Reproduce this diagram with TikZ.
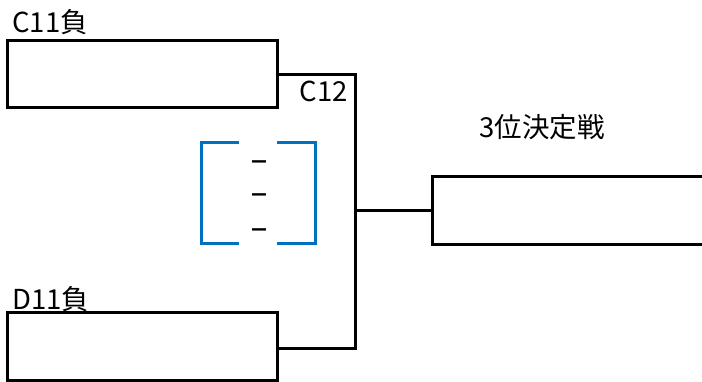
\documentclass[tikz,border=0pt]{standalone}
\usepackage{fontspec}
\setmainfont{Noto Sans CJK JP}
\definecolor{bracketblue}{HTML}{0070C0}
\begin{document}
\begin{tikzpicture}[x=1pt,y=-1pt,
  line/.style={line width=3pt,black},
  box/.style={draw,line width=3pt,minimum width=270pt,minimum height=67pt,inner sep=0pt},
  lbl/.style={font=\fontsize{27.5}{30}\selectfont,inner sep=0pt},
  brk/.style={line width=3pt,bracketblue},
  dashtxt/.style={font=\fontsize{20}{22}\selectfont\bfseries,inner sep=0pt}]
\useasboundingbox (0,0) rectangle (702,382);
\node[box] (b1) at (142,74) {};
\node[box] (b2) at (142,346.5) {};
\node[lbl,anchor=west] (t1) at (12,22) {C11負};
\node[lbl,anchor=west] (t2) at (12,299) {D11負};
\node[lbl] (t3) at (324,91) {C12};
\node[lbl] (t4) at (542,127) {3位決定戦};
\coordinate (j1) at (355,75);
\coordinate (j2) at (355,348);
\coordinate (jm) at (355,211);
\coordinate (f1) at (703,177);
\coordinate (f2) at (703,245);
\coordinate (f3) at (432,177);
\coordinate (f4) at (432,245);
\coordinate (fm) at (432,211);
\draw[line] (b1.east |- j1) -- (j1) -- (j2) -- (b2.east |- j2);
\draw[line] (jm) -- (fm);
\draw[line] (f1) -- (f3) -- (f4) -- (f2);
\coordinate (l1) at (239,143);
\coordinate (l2) at (201,143);
\coordinate (l3) at (201,244);
\coordinate (l4) at (239,244);
\coordinate (r1) at (277,143);
\coordinate (r2) at (315,143);
\coordinate (r3) at (315,244);
\coordinate (r4) at (277,244);
\draw[brk] (l1) -- (l2) -- (l3) -- (l4);
\draw[brk] (r1) -- (r2) -- (r3) -- (r4);
\node[dashtxt] (d1) at (259,165) {－};
\node[dashtxt] (d2) at (259,198) {－};
\node[dashtxt] (d3) at (259,233) {－};
\end{tikzpicture}
\end{document}
